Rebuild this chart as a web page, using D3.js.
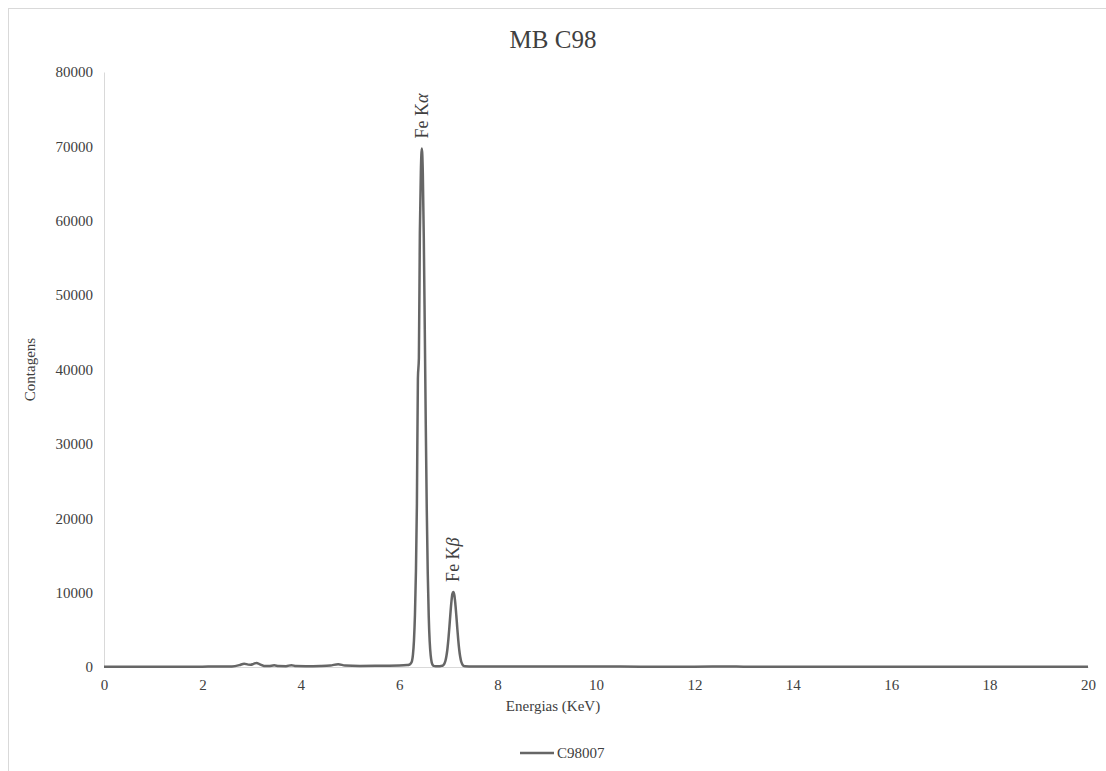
<!DOCTYPE html>
<html>
<head>
<meta charset="utf-8">
<script src="https://cdn.jsdelivr.net/npm/d3@7"></script>
<style>
html, body { margin: 0; padding: 0; background: #fff; }
svg { display: block; }
</style>
</head>
<body>
<svg id="chart" width="1106" height="771"></svg>
<script>
const title = "MB C98";
const seriesName = "C98007";
const xTicks = [0, 2, 4, 6, 8, 10, 12, 14, 16, 18, 20];
const yTicks = [0, 10000, 20000, 30000, 40000, 50000, 60000, 70000, 80000];
const energies = [0, 0.5, 1.0, 1.5, 2.0, 2.4, 2.6, 2.75, 2.85, 2.93, 2.98, 3.04, 3.10, 3.17, 3.25, 3.35, 3.46, 3.55, 3.7, 3.81, 3.9, 4.1, 4.4, 4.6, 4.76, 4.9, 5.2, 5.6, 6.0, 6.16, 6.20, 6.22, 6.24, 6.26, 6.28, 6.30, 6.32, 6.34, 6.36, 6.38, 6.40, 6.42, 6.44, 6.46, 6.48, 6.50, 6.52, 6.54, 6.56, 6.58, 6.60, 6.62, 6.64, 6.66, 6.68, 6.70, 6.74, 6.80, 6.86, 6.88, 6.90, 6.92, 6.94, 6.96, 6.98, 7.00, 7.02, 7.04, 7.06, 7.08, 7.10, 7.12, 7.14, 7.16, 7.18, 7.20, 7.22, 7.24, 7.26, 7.28, 7.30, 7.34, 7.5, 8, 9, 10, 11, 12, 12.7, 13, 14, 15, 16, 17, 18, 19, 20];
const counts = [40, 35, 40, 45, 50, 60, 80, 250, 450, 320, 300, 420, 550, 350, 150, 120, 220, 120, 110, 250, 120, 100, 130, 200, 380, 200, 150, 170, 200, 260, 300, 380, 520, 800, 1700, 3550, 7000, 12800, 22000, 38800, 41500, 58500, 66500, 69700, 66400, 57600, 45400, 32600, 21300, 12700, 6900, 3400, 1550, 650, 280, 150, 110, 110, 150, 170, 270, 470, 840, 1470, 2420, 3740, 5360, 7100, 8680, 9800, 10100, 9700, 8580, 7000, 5260, 3640, 2320, 1370, 740, 400, 200, 90, 60, 60, 55, 60, 50, 50, 70, 50, 45, 45, 40, 40, 35, 35, 30];
const peakLabels = [
  { name: "Fe K", greek: "α", energy: 6.46, counts: 69700 },
  { name: "Fe K", greek: "β", energy: 7.10, counts: 10100 }
];

const FONT = "'Liberation Serif', 'Times New Roman', Times, 'DejaVu Serif', serif";
const TXT = "#404040";

const svg = d3.select("#chart");
const W = 1106, H = 771;
const margin = { left: 104, right: 18, top: 72, bottom: 104 };

svg.append("rect").attr("x", 8.5).attr("y", 8.5).attr("width", 1110).attr("height", 800)
  .attr("fill", "#fff").attr("stroke", "#d9d9d9").attr("stroke-width", 1);

const x = d3.scaleLinear().domain([0, 20]).range([margin.left, W - margin.right]);
const y = d3.scaleLinear().domain([0, 80000]).range([H - margin.bottom, margin.top]);

// axes
const xAxis = svg.append("g").attr("transform", `translate(0,${y(0)})`)
  .call(d3.axisBottom(x).tickValues(xTicks).tickSize(0).tickPadding(12).tickFormat(d3.format("d")));
xAxis.attr("font-family", FONT).attr("font-size", 15);
xAxis.select(".domain").attr("stroke", "#d9d9d9").attr("stroke-width", 1);
xAxis.selectAll("text").attr("fill", TXT);

const yAxis = svg.append("g").attr("transform", `translate(${x(0)},0)`)
  .call(d3.axisLeft(y).tickValues(yTicks).tickSize(0).tickPadding(11).tickFormat(d3.format("d")));
yAxis.attr("font-family", FONT).attr("font-size", 15);
yAxis.select(".domain").attr("stroke", "#d9d9d9").attr("stroke-width", 1);
yAxis.selectAll("text").attr("fill", TXT);

// line
const data = energies.map((e, i) => ({ e, c: counts[i] }));
const line = d3.line().x(d => x(d.e)).y(d => y(d.c)).curve(d3.curveMonotoneX);
svg.append("path").datum(data).attr("d", line)
  .attr("fill", "none").attr("stroke", "#666666").attr("stroke-width", 2.5)
  .attr("stroke-linejoin", "round");

// peak labels
peakLabels.forEach(p => {
  const px = x(p.energy), py = y(p.counts) - 10;
  const t = svg.append("text")
    .attr("transform", `translate(${px + 6},${py}) rotate(-90)`)
    .attr("text-anchor", "start")
    .attr("font-family", FONT).attr("font-size", 18).attr("fill", TXT);
  t.append("tspan").text(p.name);
  t.append("tspan").attr("font-style", "italic").text(p.greek);
});

// title
svg.append("text").attr("x", W / 2).attr("y", 48).attr("text-anchor", "middle")
  .attr("font-family", FONT).attr("font-size", 25).attr("fill", TXT).text(title);

// axis titles
svg.append("text").attr("x", W / 2).attr("y", 711).attr("text-anchor", "middle")
  .attr("font-family", FONT).attr("font-size", 15).attr("fill", TXT).text("Energias (KeV)");
svg.append("text").attr("transform", `translate(35,${(y(0) + y(80000)) / 2}) rotate(-90)`)
  .attr("text-anchor", "middle")
  .attr("font-family", FONT).attr("font-size", 15).attr("fill", TXT).text("Contagens");

// legend
svg.append("line").attr("x1", 520).attr("x2", 554).attr("y1", 753).attr("y2", 753)
  .attr("stroke", "#666666").attr("stroke-width", 2.5);
svg.append("text").attr("x", 557).attr("y", 758)
  .attr("font-family", FONT).attr("font-size", 15).attr("fill", TXT).text(seriesName);
</script>
</body>
</html>
